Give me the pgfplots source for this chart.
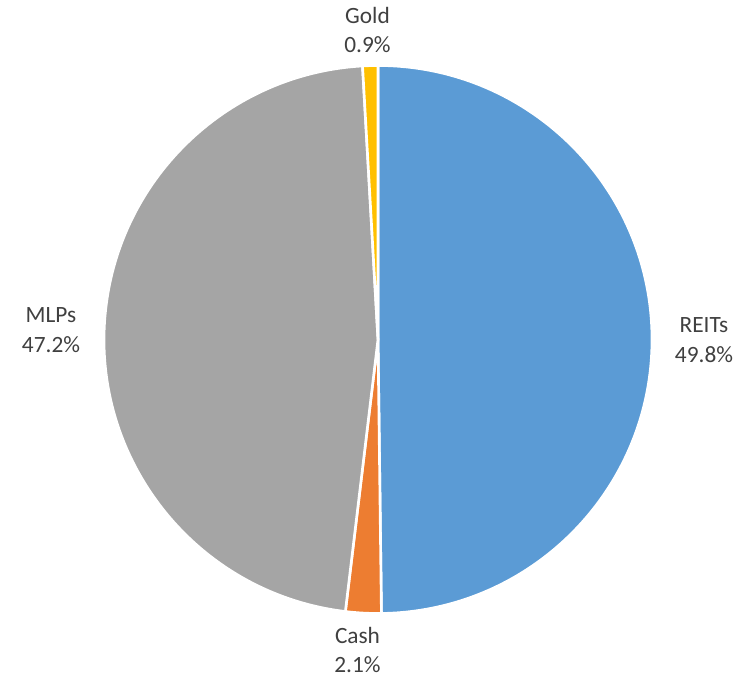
\documentclass[border=0pt]{standalone}
\usepackage{pgfplots}
\usepackage{pgfplotstable}
\pgfplotsset{compat=1.18}
\usepackage{fontspec}
\setmainfont{Carlito}
\definecolor{cREITs}{HTML}{5B9BD5}
\definecolor{cCash}{HTML}{ED7D31}
\definecolor{cMLPs}{HTML}{A5A5A5}
\definecolor{cGold}{HTML}{FFC000}
\definecolor{txt}{HTML}{404040}
\pgfplotstableread{
label value
REITs 49.8
Cash 2.1
MLPs 47.2
Gold 0.9
}\piedata
\pgfplotstablegetelem{0}{value}\of\piedata \let\vA\pgfplotsretval
\pgfplotstablegetelem{1}{value}\of\piedata \let\vB\pgfplotsretval
\pgfplotstablegetelem{2}{value}\of\piedata \let\vC\pgfplotsretval
\pgfplotstablegetelem{3}{value}\of\piedata \let\vD\pgfplotsretval
\pgfmathsetmacro\aZ{90}
\pgfmathsetmacro\aA{\aZ-3.6*\vA}
\pgfmathsetmacro\aB{\aA-3.6*\vB}
\pgfmathsetmacro\aC{\aB-3.6*\vC}
\pgfmathsetmacro\aD{\aC-3.6*\vD}
\def\R{205.5bp}
\begin{document}
\begin{tikzpicture}
\begin{axis}[
  hide axis, scale only axis,
  width=561bp, height=507bp,
  xmin=0, xmax=748, ymin=0, ymax=676,
  enlargelimits=false,
  clip=false,
]
\def\cx{378}\def\cy{336.5}
\path (axis cs:0,0) coordinate (BL) (axis cs:748,676) coordinate (TR);
\fill[cREITs, draw=white, line width=2pt] (axis cs:\cx,\cy) -- ++(\aZ:\R) arc[start angle=\aZ, end angle=\aA, radius=\R] -- cycle;
\fill[cCash, draw=white, line width=2pt] (axis cs:\cx,\cy) -- ++(\aA:\R) arc[start angle=\aA, end angle=\aB, radius=\R] -- cycle;
\fill[cMLPs, draw=white, line width=2pt] (axis cs:\cx,\cy) -- ++(\aB:\R) arc[start angle=\aB, end angle=\aC, radius=\R] -- cycle;
\fill[cGold, draw=white, line width=2pt] (axis cs:\cx,\cy) -- ++(\aC:\R) arc[start angle=\aC, end angle=\aD, radius=\R] -- cycle;
\tikzset{lab/.style={anchor=base, text=txt, inner sep=0pt, font=\fontsize{17.5bp}{21bp}\selectfont}}
\node[lab] at (axis cs:367.5,652) {Gold};
\node[lab] at (axis cs:367.5,623) {0.9\%};
\node[lab] at (axis cs:704,343) {REITs};
\node[lab] at (axis cs:704,313) {49.8\%};
\node[lab] at (axis cs:51,353) {MLPs};
\node[lab] at (axis cs:51,323) {47.2\%};
\node[lab] at (axis cs:357.5,33) {Cash};
\node[lab] at (axis cs:357.5,4) {2.1\%};
\end{axis}
\pgfresetboundingbox
\path[use as bounding box] (BL) rectangle (TR);
\end{tikzpicture}
\end{document}
